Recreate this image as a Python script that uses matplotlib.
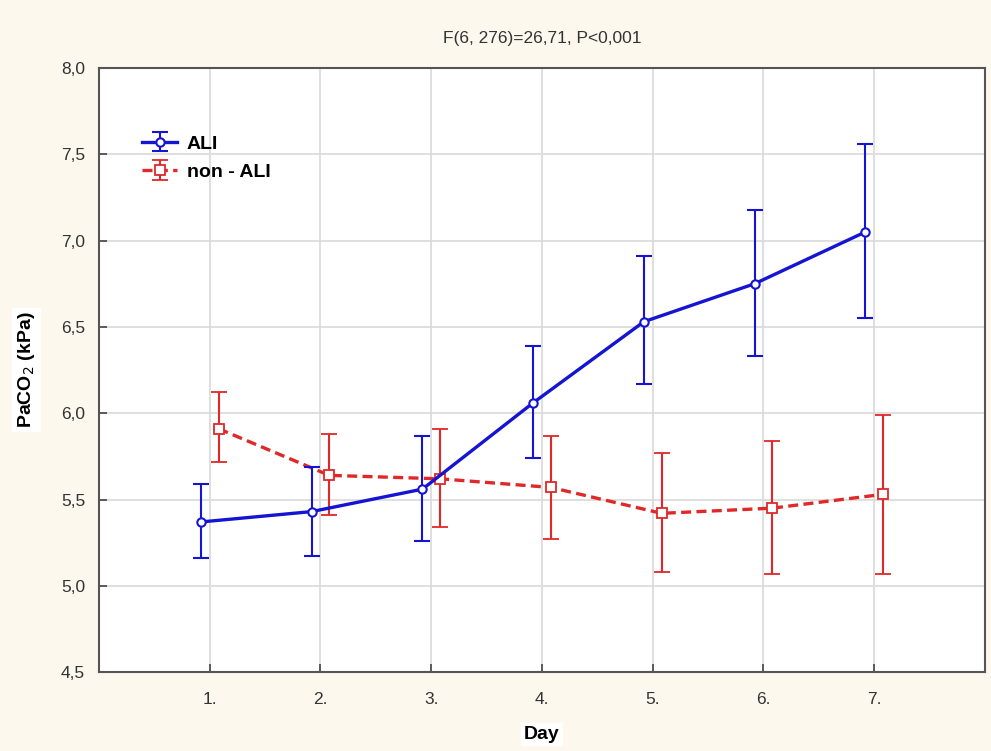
import matplotlib
matplotlib.use("Agg")
import matplotlib.pyplot as plt
import numpy as np

plt.rcParams['font.family'] = ['Liberation Sans', 'DejaVu Sans']

days = [1, 2, 3, 4, 5, 6, 7]
day_labels = ["1.", "2.", "3.", "4.", "5.", "6.", "7."]

ali_mean = [5.37, 5.43, 5.56, 6.06, 6.53, 6.75, 7.05]
ali_low = [5.16, 5.17, 5.26, 5.74, 6.17, 6.33, 6.55]
ali_high = [5.59, 5.69, 5.87, 6.39, 6.91, 7.18, 7.56]

nonali_mean = [5.91, 5.64, 5.62, 5.57, 5.42, 5.45, 5.53]
nonali_low = [5.72, 5.41, 5.34, 5.27, 5.08, 5.07, 5.07]
nonali_high = [6.12, 5.88, 5.91, 5.87, 5.77, 5.84, 5.99]

y_ticks = [4.5, 5.0, 5.5, 6.0, 6.5, 7.0, 7.5, 8.0]
y_tick_labels = ["4,5", "5,0", "5,5", "6,0", "6,5", "7,0", "7,5", "8,0"]

blue = '#1414d2'
red = '#e02828'

fig = plt.figure(figsize=(9.91, 7.51), dpi=100, facecolor='#fdf8ee')
ax = fig.add_axes([0.0999, 0.105, 0.894, 0.8045])
ax.set_facecolor('white')

x = np.array(days, dtype=float)
ax.errorbar(x - 0.08, ali_mean,
            yerr=[np.array(ali_mean) - np.array(ali_low), np.array(ali_high) - np.array(ali_mean)],
            color=blue, lw=2.4, marker='o', ms=6, mfc='white', mec=blue, mew=1.5,
            ecolor=blue, elinewidth=1.5, capsize=6, capthick=1.5, label='ALI', zorder=4)
ax.errorbar(x + 0.08, nonali_mean,
            yerr=[np.array(nonali_mean) - np.array(nonali_low), np.array(nonali_high) - np.array(nonali_mean)],
            color=red, lw=2.4, ls=(0, (3, 1.6)), marker='s', ms=6.5, mfc='white', mec=red, mew=1.3,
            ecolor=red, elinewidth=1.5, capsize=6, capthick=1.5, label='non - ALI', zorder=3)

ax.set_xlim(0, 8)
ax.set_ylim(4.5, 8.0)
ax.set_xticks(days)
ax.set_xticklabels(day_labels)
ax.set_yticks(y_ticks)
ax.set_yticklabels(y_tick_labels)
ax.grid(True, color='#d9d9d9', lw=1.2)
ax.set_axisbelow(True)
ax.tick_params(direction='in', length=6, width=1.2, color='#444444', labelsize=12.5,
               labelcolor='#333333')
ax.tick_params(axis='y', pad=10)
ax.tick_params(axis='x', pad=14)
for s in ax.spines.values():
    s.set_color('#555555')
    s.set_linewidth(1.5)

ax.set_xlabel('Day', fontsize=14, fontweight='bold', labelpad=14,
              bbox=dict(facecolor='white', edgecolor='none', pad=2))
ax.set_ylabel('PaCO$_2$ (kPa)', fontsize=14, fontweight='bold', labelpad=17,
              bbox=dict(facecolor='white', edgecolor='none', pad=3))
ax.set_title('F(6, 276)=26,71, P<0,001', fontsize=12.5, color='#333333', pad=18)

leg = ax.legend(loc='upper left', bbox_to_anchor=(0.04, 0.902), frameon=False,
                prop={'weight': 'bold', 'size': 14}, handlelength=1.8, handletextpad=0.5,
                labelspacing=0.55, borderaxespad=0)

fig.savefig('out.png', dpi=100, facecolor=fig.get_facecolor())
